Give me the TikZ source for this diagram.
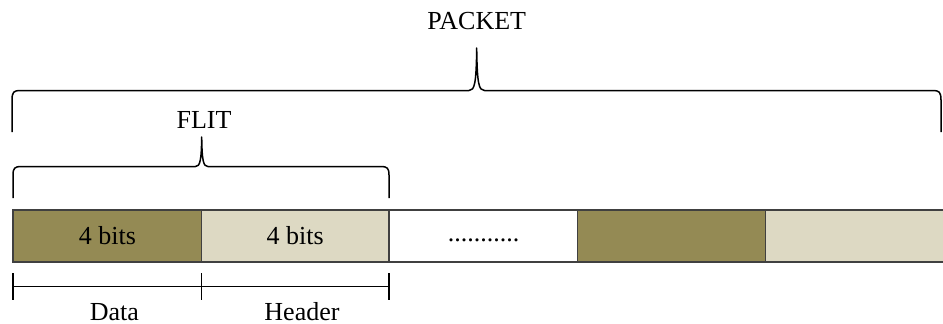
\documentclass[tikz,border=0pt]{standalone}
\usepackage{fontspec}
\setmainfont{Liberation Serif}
\definecolor{olive}{HTML}{948A54}
\definecolor{tan}{HTML}{DDD9C3}
\definecolor{edge}{HTML}{404040}
\begin{document}
\begin{tikzpicture}[x=1pt,y=-1pt,
  every node/.style={font=\fontsize{26}{30}\selectfont, inner sep=0pt},
  cell/.style={draw=edge, line width=1.2pt, rectangle, minimum height=52pt, text height=17.8pt, text depth=0pt},
  bracepath/.style={line width=1.5pt, line join=round},
  lbl/.style={anchor=base}]
\useasboundingbox (0,0) rectangle (943,324);
% cells
\node[cell, fill=olive, minimum width=189pt] (b1) at (107.5,236) {4 bits};
\node[cell, fill=tan, minimum width=187.5pt] (b2) at (295.25,236) {4 bits};
\node[cell, fill=white, minimum width=188pt, text height=10pt] (b3) at (483.5,236) {...........};
\node[cell, fill=olive, minimum width=188pt] (b4) at (671.5,236) {};
\node[cell, fill=tan, minimum width=182pt] (b5) at (856.5,236) {};
% labels
\node[lbl] (packet) at (476.7,29) {PACKET};
\node[lbl] (flit) at (204,128.3) {FLIT};
% packet brace
\coordinate (ptip) at (476.7,48);
\draw[bracepath] (12,132) -- (12,100) .. controls (12,92) and (14,90.5) .. (20,90.5)
  -- (469,90.5) .. controls (474.5,90.5) and (476.3,84) .. (ptip)
  .. controls (477.1,84) and (478.9,90.5) .. (484.4,90.5)
  -- (933,90.5) .. controls (939,90.5) and (941,92) .. (941,100) -- (941,132);
% flit brace
\coordinate (ftip) at (201.7,137);
\draw[bracepath] (13,198) -- (13,175) .. controls (13,168) and (15,166.5) .. (21,166.5)
  -- (195.5,166.5) .. controls (200,166.5) and (201.4,161) .. (ftip)
  .. controls (202,161) and (203.4,166.5) .. (207.9,166.5)
  -- (381,166.5) .. controls (387,166.5) and (389,168) .. (389,175) -- (389,198);
% scale
\coordinate (s0) at (13,286.5);
\coordinate (s1) at (201.5,286.5);
\coordinate (s2) at (389,286.5);
\draw[line width=1.3pt] (s0) -- (s2);
\foreach \c in {s0,s1,s2} \draw[line width=1.3pt] ([yshift=13.5pt]\c) -- ([yshift=-13.5pt]\c);
\node[lbl] (data) at (114.3,320) {Data};
\node[lbl] (header) at (302,320) {Header};
\end{tikzpicture}
\end{document}
